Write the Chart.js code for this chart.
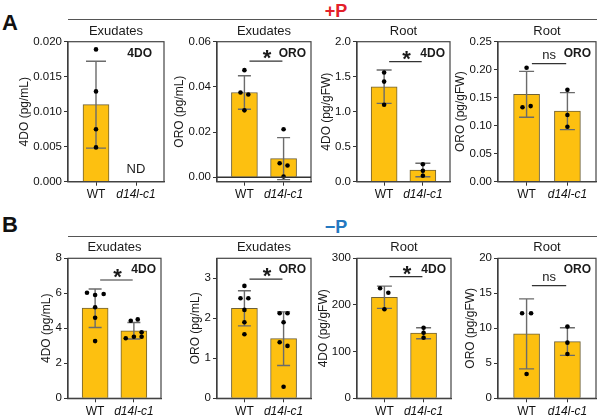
<!DOCTYPE html>
<html>
<head>
<meta charset="utf-8">
<script src="https://cdn.jsdelivr.net/npm/chart.js@4/dist/chart.umd.min.js"></script>
<style>
  body { margin: 0; width: 600px; height: 417px; background: #fff; position: relative; overflow: hidden;
         font-family: 'Liberation Sans', Arial, sans-serif; color: #111; }
  .hd { position: absolute; font-weight: bold; line-height: 1; white-space: nowrap; }
  .rule { position: absolute; height: 0; border-top: 1.5px solid #555; }
  .pane { position: absolute; }
</style>
</head>
<body>
<div class="hd" style="left:2px;top:12px;font-size:22px">A</div>
<div class="hd" style="left:2px;top:214px;font-size:22px">B</div>
<div class="hd" style="left:336px;top:2px;font-size:18px;color:#e3202a;transform:translateX(-50%)">+P</div>
<div class="hd" style="left:336px;top:218px;font-size:18px;color:#2478c0;transform:translateX(-50%)">−P</div>
<div class="rule" style="left:68px;top:19px;width:529px"></div>
<div class="rule" style="left:68px;top:236px;width:529px"></div>

<script>
const FONT = "'Liberation Sans', Arial, sans-serif";

const categories = ['WT', 'd14l-c1'];

// panels: A1..A4 (+P), B1..B4 (-P)
const panelTitles = ['Exudates', 'Exudates', 'Root', 'Root', 'Exudates', 'Exudates', 'Root', 'Root'];
const analytes = ['4DO', 'ORO', '4DO', 'ORO', '4DO', 'ORO', '4DO', 'ORO'];
const yTitles = ['4DO (pg/mL)', 'ORO (pg/mL)', '4DO (pg/gFW)', 'ORO (pg/gFW)',
                 '4DO (pg/mL)', 'ORO (pg/mL)', '4DO (pg/gFW)', 'ORO (pg/gFW)'];

// bar means and SD per panel [WT, d14l-c1]; null = not detected
const means = [[0.011, null], [0.0375, 0.0082], [1.357, 0.167], [0.156, 0.126],
               [5.15, 3.86], [2.25, 1.49], [216.5, 139.5], [9.2, 8.1]];
const sds = [[0.0062, null], [0.0074, 0.0093], [0.238, 0.096], [0.041, 0.033],
             [1.1, 0.47], [0.44, 0.67], [23.9, 11.8], [5.0, 1.97]];

// replicate points
const wtPoints = [
  [0.0189, 0.0129, 0.0075, 0.0049],
  [0.0474, 0.0375, 0.0366, 0.0296],
  [1.56, 1.43, 1.10],
  [0.2036, 0.133, 0.135],
  [6.03, 5.9, 5.96, 5.2, 4.6, 3.27],
  [2.81, 2.5, 2.5, 2.21, 1.9, 1.6],
  [235.7, 226.3, 190.7],
  [12.14, 12.14, 3.48]
];
const wtJitter = [
  [0, 0, 0, 0],
  [0, -0.1, 0.1, 0],
  [0, 0, 0],
  [0, -0.1, 0.1],
  [-0.21, 0, 0.22, 0, 0, 0],
  [0, -0.1, 0.1, 0, 0, 0],
  [-0.11, 0.1, 0],
  [-0.11, 0.11, 0]
];
const mutPoints = [
  [],
  [0.0212, 0.0062, 0.0052, 0.0003],
  [0.25, 0.157, 0.086],
  [0.164, 0.119, 0.098],
  [4.43, 4.51, 3.43, 3.52, 3.52, 3.77],
  [2.125, 2.125, 1.9, 1.4, 1.31, 0.29],
  [151.3, 140.6, 129.9],
  [10.24, 7.95, 6.33]
];
const mutJitter = [
  [],
  [0, -0.1, 0.1, 0],
  [0, 0, 0],
  [0, 0, 0],
  [-0.08, 0.1, -0.21, 0, 0.2, 0.2],
  [-0.1, 0.1, 0, -0.1, 0.1, 0],
  [0, 0, 0],
  [0, 0, 0]
];

// significance bar level and mark
const sigLevels = [null, 0.0514, 1.714, 0.211, 6.76, 2.98, 260.7, 16.1];
const sigMarks = ['', '*', '*', 'ns', '*', '*', '*', 'ns'];

// y axes
const yMin = [0, -0.002, 0, 0, 0, 0, 0, 0];
const yMax = [0.02, 0.06, 2, 0.25, 8, 3.5, 300, 20];
const yTickValues = [
  [0, 0.005, 0.01, 0.015, 0.02],
  [0, 0.02, 0.04, 0.06],
  [0, 0.5, 1, 1.5, 2],
  [0, 0.05, 0.1, 0.15, 0.2, 0.25],
  [0, 2, 4, 6, 8],
  [0, 1, 2, 3],
  [0, 100, 200, 300],
  [0, 5, 10, 15, 20]
];
const yTickLabels = [
  ['0.000', '0.005', '0.010', '0.015', '0.020'],
  ['0.00', '0.02', '0.04', '0.06'],
  ['0.0', '0.5', '1.0', '1.5', '2.0'],
  ['0.00', '0.05', '0.10', '0.15', '0.20', '0.25'],
  ['0', '2', '4', '6', '8'],
  ['0', '1', '2', '3'],
  ['0', '100', '200', '300'],
  ['0', '5', '10', '15', '20']
];

// layout of the panels on the page (axis x, box right, row)
const layout = [
  { axisX: 68, right: 165, row: 0, cap: 20, inset: 12 },
  { axisX: 217, right: 312, row: 0, cap: 13, inset: 5 },
  { axisX: 357, right: 451, row: 0, cap: 15, inset: 5 },
  { axisX: 498, right: 597, row: 0, cap: 15, inset: 5 },
  { axisX: 68, right: 162, row: 1, cap: 13, inset: 5 },
  { axisX: 217, right: 312, row: 1, cap: 13, inset: 5 },
  { axisX: 357, right: 452, row: 1, cap: 15, inset: 5 },
  { axisX: 498, right: 597, row: 1, cap: 15, inset: 5 }
];
const rows = [
  { canvasTop: 22, height: 183, boxTop: 41.7, boxBottom: 181.7 },
  { canvasTop: 239, height: 178, boxTop: 258.3, boxBottom: 398.3 }
];
const Y_AXIS_W = 62;

function makeDecor(i, cap, inset) {
  return {
    id: 'decor' + i,
    afterDatasetDraw(chart, args) {
      if (args.index !== 0) return;
      const { ctx, scales: { x, y } } = chart;
      ctx.save();
      ctx.strokeStyle = '#6b6b6b';
      ctx.lineWidth = 1.4;
      means[i].forEach((m, k) => {
        if (m == null) return;
        const px = x.getPixelForValue(k);
        const top = y.getPixelForValue(m + sds[i][k]);
        const bot = y.getPixelForValue(m - sds[i][k]);
        ctx.beginPath();
        ctx.moveTo(px, top); ctx.lineTo(px, bot);
        ctx.moveTo(px - cap / 2, top); ctx.lineTo(px + cap / 2, top);
        ctx.moveTo(px - cap / 2, bot); ctx.lineTo(px + cap / 2, bot);
        ctx.stroke();
      });
      ctx.restore();
    },
    afterDraw(chart) {
      const { ctx, chartArea: ca, scales: { x, y } } = chart;
      ctx.save();
      // frame
      ctx.strokeStyle = '#444';
      ctx.lineWidth = 1.2;
      ctx.strokeRect(ca.left, ca.top, ca.right - ca.left, ca.bottom - ca.top);
      if (yMin[i] < 0) {
        const zy = y.getPixelForValue(0);
        ctx.lineWidth = 1.6;
        ctx.strokeStyle = '#333';
        ctx.beginPath(); ctx.moveTo(ca.left, zy); ctx.lineTo(ca.right, zy); ctx.stroke();
      }
      ctx.fillStyle = '#1a1a1a';
      // panel title
      ctx.font = '13px ' + FONT;
      ctx.textAlign = 'center';
      ctx.textBaseline = 'middle';
      ctx.fillText(panelTitles[i], (ca.left + ca.right) / 2, ca.top - 10.5);
      // analyte
      ctx.font = 'bold 12px ' + FONT;
      ctx.textAlign = 'right';
      ctx.fillText(analytes[i], ca.right - inset, ca.top + 11.5);
      // significance
      if (sigLevels[i] != null) {
        const ly = y.getPixelForValue(sigLevels[i]);
        const x0 = x.getPixelForValue(0.13), x1 = x.getPixelForValue(0.97);
        ctx.strokeStyle = '#333';
        ctx.lineWidth = 1.2;
        ctx.beginPath(); ctx.moveTo(x0, ly); ctx.lineTo(x1, ly); ctx.stroke();
        ctx.textAlign = 'center';
        ctx.textBaseline = 'alphabetic';
        if (sigMarks[i] === '*') {
          ctx.font = 'bold 22px ' + FONT;
          ctx.fillText('*', (x0 + x1) / 2 + 1, ly + 4);
        } else {
          ctx.font = '13px ' + FONT;
          ctx.fillText(sigMarks[i], (x0 + x1) / 2, ly - 5);
        }
      }
      // not detected
      means[i].forEach((m, k) => {
        if (m != null) return;
        ctx.font = '13px ' + FONT;
        ctx.textAlign = 'center';
        ctx.textBaseline = 'middle';
        ctx.fillText('ND', x.getPixelForValue(k), ca.bottom - 12.7);
      });
      // y title
      ctx.font = '11.5px ' + FONT;
      let maxW = 0;
      yTickLabels[i].forEach(t => { maxW = Math.max(maxW, ctx.measureText(t).width); });
      const tx = ca.left - 6 - maxW - 8.5;
      ctx.font = '12px ' + FONT;
      ctx.translate(tx, (ca.top + ca.bottom) / 2);
      ctx.rotate(-Math.PI / 2);
      ctx.textAlign = 'center';
      ctx.textBaseline = 'middle';
      ctx.fillText(yTitles[i], 0, 0);
      ctx.restore();
    }
  };
}

layout.forEach((p, i) => {
  const r = rows[p.row];
  const left = p.axisX - Y_AXIS_W;
  const width = Math.round(p.right - left + 3);
  const wrap = document.createElement('div');
  wrap.className = 'pane';
  wrap.style.left = left + 'px';
  wrap.style.top = r.canvasTop + 'px';
  const cv = document.createElement('canvas');
  cv.width = width;
  cv.height = r.height;
  wrap.appendChild(cv);
  document.body.appendChild(wrap);

  const padTop = r.boxTop - r.canvasTop;
  const xH = r.height - (r.boxBottom - r.canvasTop);
  const padRight = width - (p.right - left);

  const barData = means[i].map((m, k) => ({ x: k, y: m }));
  const dots = wtPoints[i].map((v, k) => ({ x: 0 + wtJitter[i][k], y: v }))
    .concat(mutPoints[i].map((v, k) => ({ x: 1 + mutJitter[i][k], y: v })));

  new Chart(cv.getContext('2d'), {
    type: 'bar',
    data: {
      datasets: [
        {
          type: 'bar',
          order: 2,
          data: barData,
          backgroundColor: '#fdc010',
          borderColor: '#6f6137',
          borderWidth: 1,
          barThickness: 26
        },
        {
          type: 'scatter',
          order: 1,
          data: dots,
          backgroundColor: '#000',
          borderWidth: 0,
          pointRadius: 2.3
        }
      ]
    },
    options: {
      responsive: false,
      animation: false,
      layout: { padding: { left: 0, top: padTop, right: padRight, bottom: 0 } },
      plugins: { legend: { display: false }, tooltip: { enabled: false }, title: { display: false } },
      scales: {
        x: {
          type: 'linear',
          min: -0.7,
          max: 1.7,
          offset: false,
          grid: { drawOnChartArea: false, drawTicks: true, tickLength: 4, color: '#333', offset: false },
          border: { color: '#333', width: 1.2 },
          afterBuildTicks: s => { s.ticks = [{ value: 0 }, { value: 1 }]; },
          afterFit: s => { s.height = xH; },
          ticks: {
            autoSkip: false,
            maxRotation: 0,
            padding: 2,
            color: '#111',
            callback: (v, idx) => categories[idx],
            font: c => ({ family: FONT, size: 12, style: c.index === 1 ? 'italic' : 'normal' })
          }
        },
        y: {
          type: 'linear',
          min: yMin[i],
          max: yMax[i],
          grid: { drawOnChartArea: false, drawTicks: true, tickLength: 4, color: '#333' },
          border: { color: '#333', width: 1.2 },
          afterBuildTicks: s => { s.ticks = yTickValues[i].map(v => ({ value: v })); },
          afterFit: s => { s.width = Y_AXIS_W; },
          ticks: {
            padding: 2,
            color: '#111',
            font: { family: FONT, size: 11.5 },
            callback: (v, idx) => yTickLabels[i][idx]
          }
        }
      }
    },
    plugins: [makeDecor(i, p.cap, p.inset)]
  });
});
</script>
</body>
</html>
